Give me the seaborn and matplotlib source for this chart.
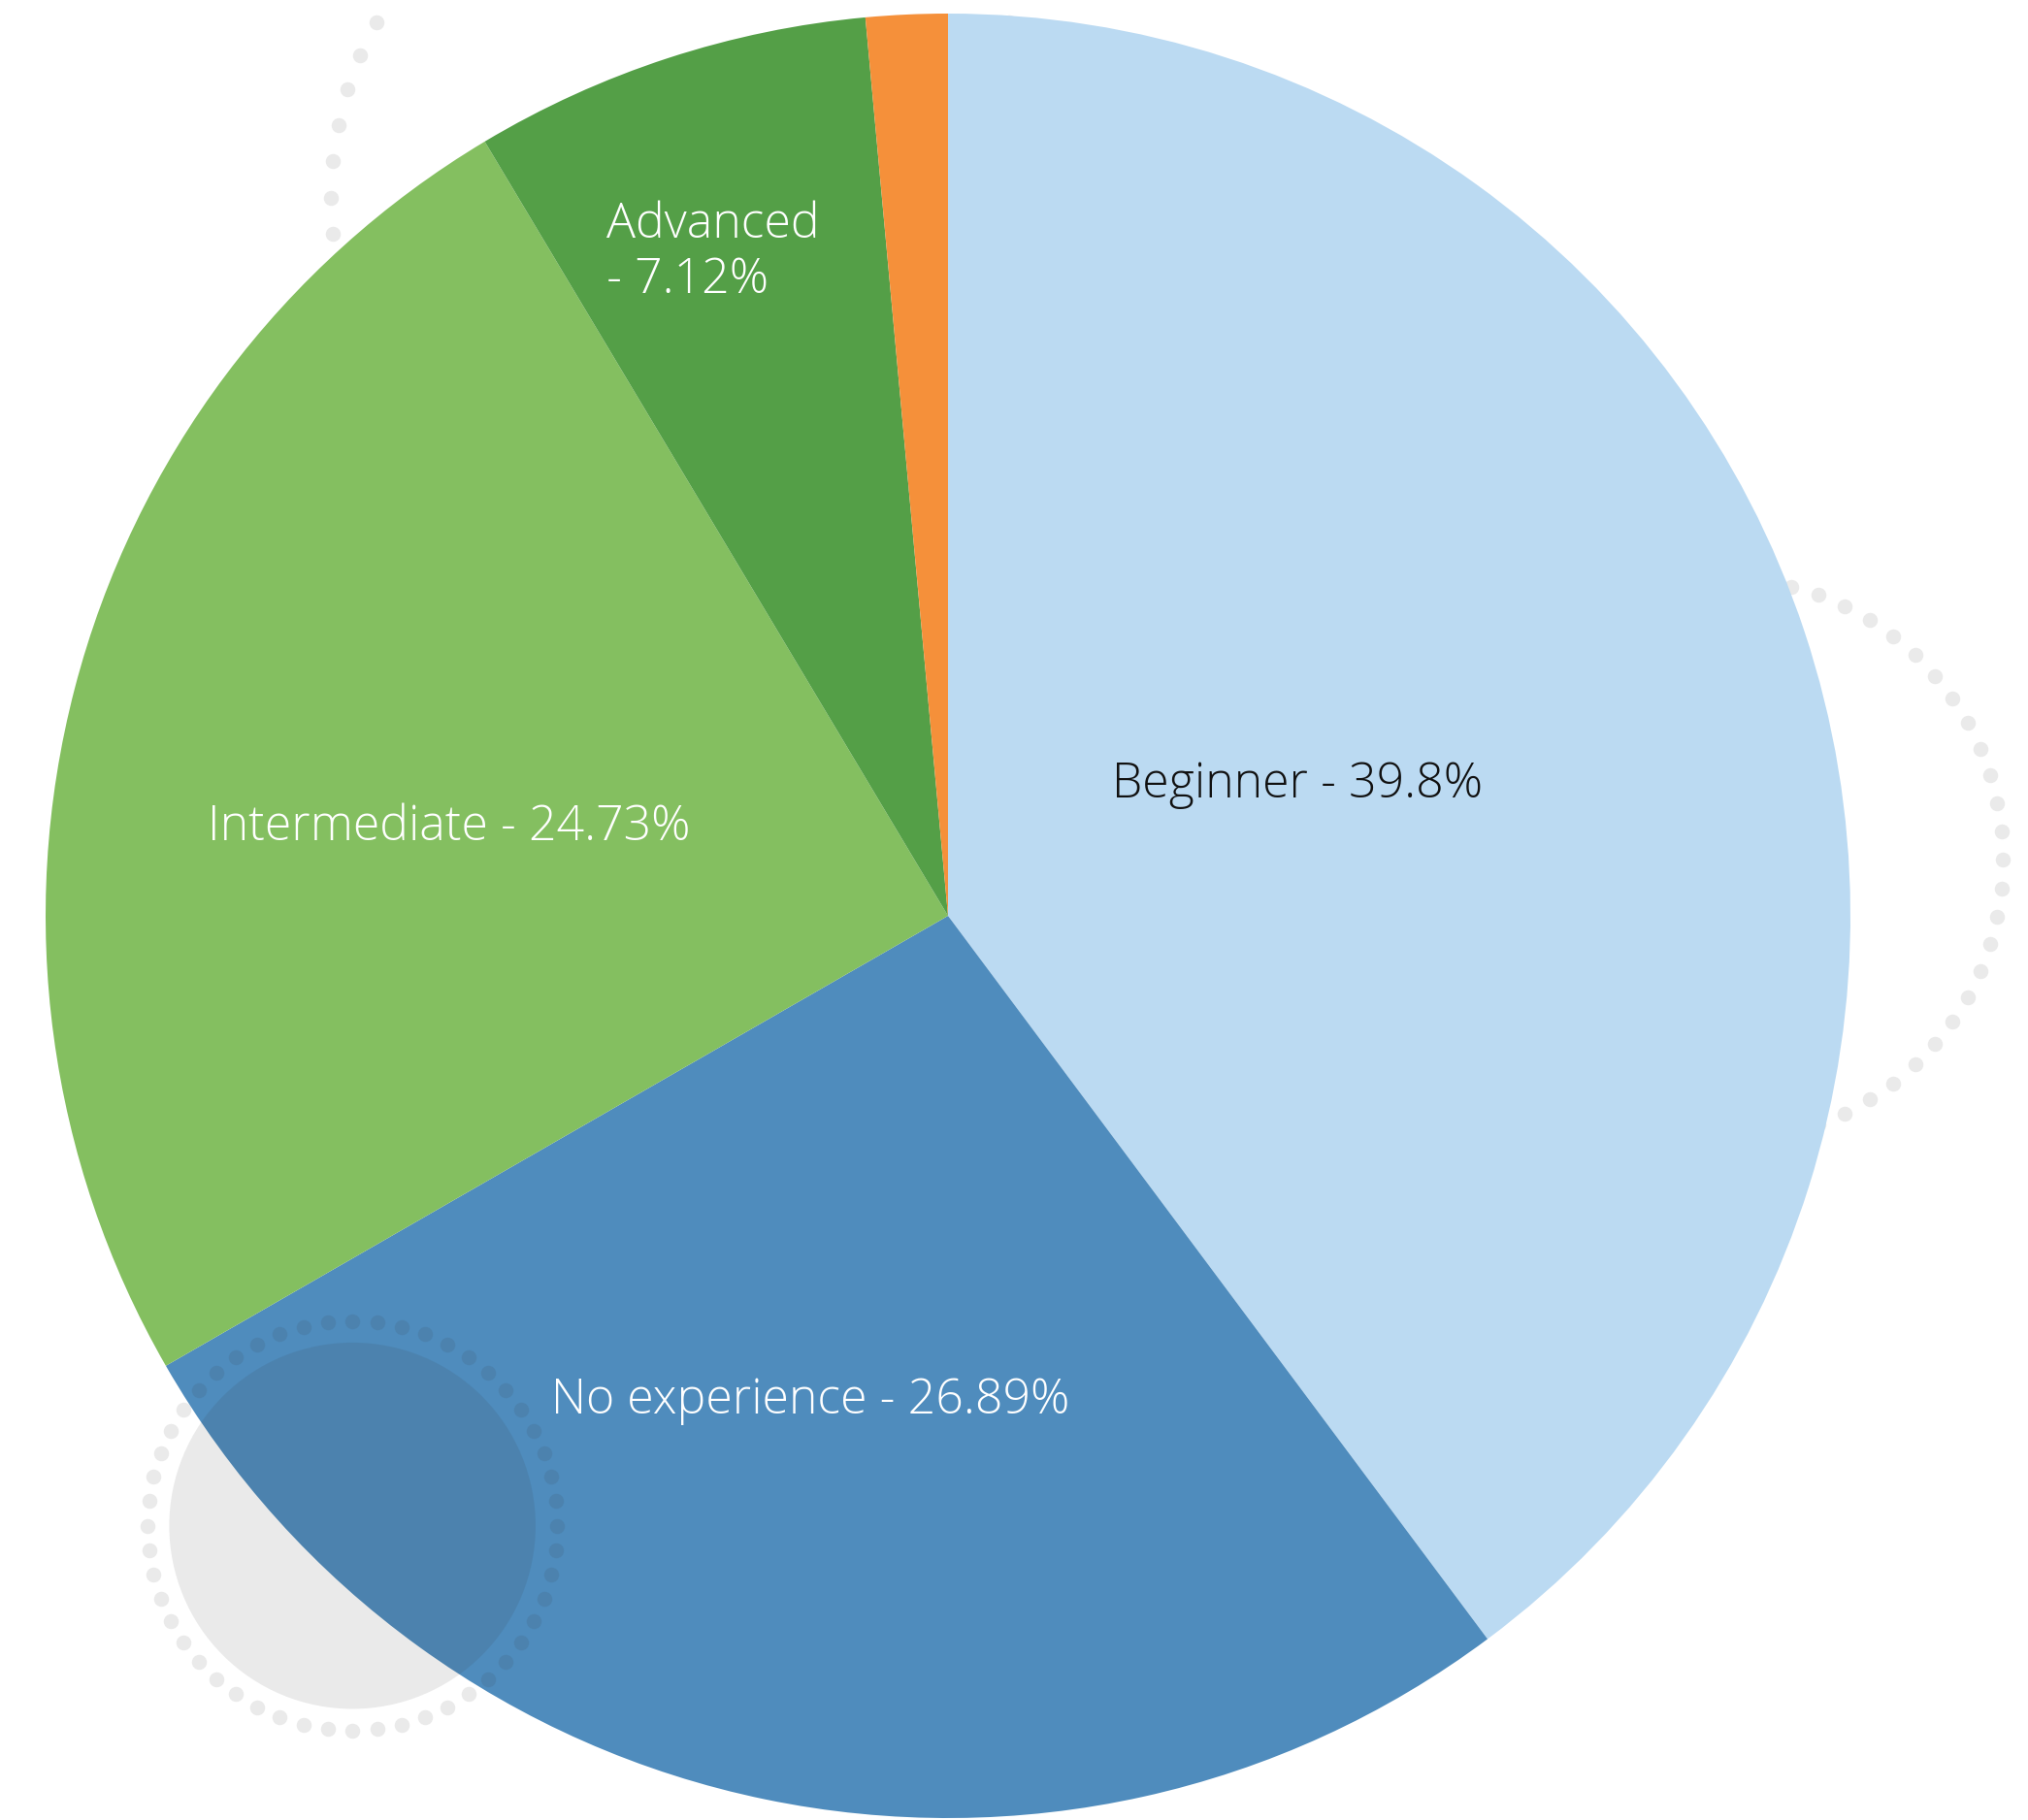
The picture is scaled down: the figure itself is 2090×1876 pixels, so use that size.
import matplotlib
matplotlib.use("Agg")
import matplotlib.pyplot as plt
import numpy as np
import seaborn as sns

# データ
levels = ["Beginner", "No experience", "Intermediate", "Advanced", "Other"]
shares = [39.8, 26.89, 24.73, 7.12, 1.46]
labels = ["Beginner - 39.8%", "No experience - 26.89%", "Intermediate - 24.73%",
          "Advanced\n- 7.12%", ""]
colors = sns.color_palette(["#bbdaf2", "#4f8cbd", "#84bf60", "#549f47", "#f5903a"])
text_colors = ["#111111", "white", "white", "white", "white"]
# ラベル位置 (半径1の円に対する相対座標)
label_pos = [(0.387, 0.145), (-0.153, -0.538), (-0.553, 0.098), (-0.378, 0.735), (0, 0)]
label_ha = ["center", "center", "center", "left", "center"]

sns.set_style("white")
plt.rcParams["font.family"] = ["Open Sans", "DejaVu Sans"]

fig = plt.figure(figsize=(20.9, 18.76), dpi=100)
ax = fig.add_axes([0, 0, 1, 1])

# 背景の点線の円
def dotted_ring(cx, cy, r, n, z):
    t = np.linspace(0, 2 * np.pi, n, endpoint=False)
    ax.scatter(cx + r * np.cos(t), cy + r * np.sin(t), s=125, color="#333333",
               alpha=0.1, linewidths=0, zorder=z)

dotted_ring(-0.283, 0.796, 0.401, 62, 0)
dotted_ring(0.856, 0.062, 0.313, 62, 0)

# 円グラフ
wedges, _ = ax.pie(shares, colors=colors, startangle=90, counterclock=False,
                   radius=1, center=(0, 0), wedgeprops=dict(linewidth=0))
for w in wedges:
    w.set_zorder(1)

# 左下の円 (グラフの上に重ねる)
ax.add_patch(plt.Circle((-0.660, -0.676), 0.203, color="#333333", alpha=0.1,
                        linewidth=0, zorder=2))
dotted_ring(-0.660, -0.676, 0.227, 52, 2)

for lab, (x, y), ha, tc in zip(labels, label_pos, label_ha, text_colors):
    if lab:
        ax.text(x, y, lab, ha=ha, va="center", fontsize=36, color=tc,
                fontweight="light", linespacing=1.2, zorder=5)

ax.set_xlim(-977 / 930, (2090 - 977) / 930)
ax.set_ylim(-(1876 - 944) / 930, 944 / 930)
ax.set_aspect("equal")
ax.axis("off")

fig.savefig("out.png", dpi=100, facecolor="white")
